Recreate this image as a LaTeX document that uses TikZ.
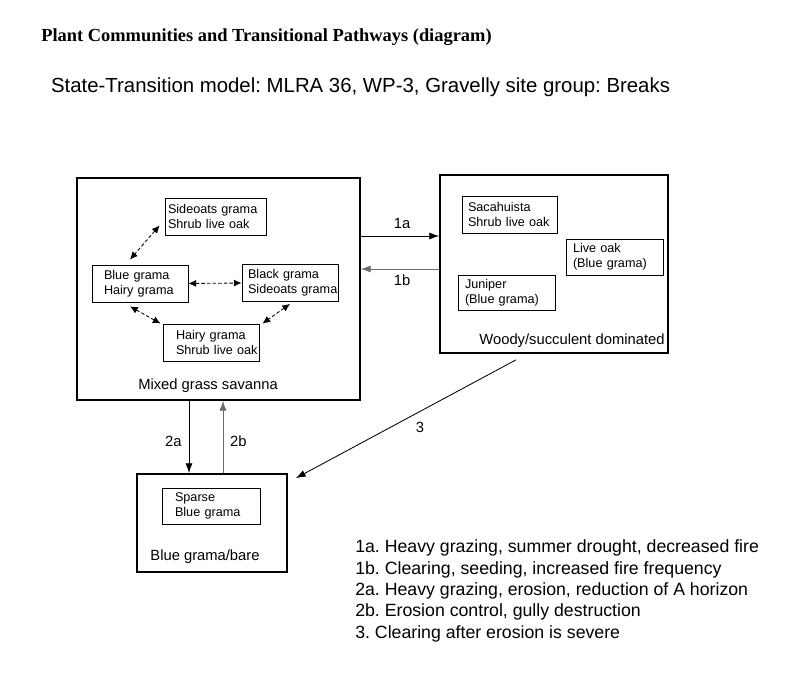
\documentclass[tikz,border=0pt]{standalone}
\usepackage{fontspec}
\setmainfont{Liberation Sans}
\newfontfamily\headfont{Liberation Serif}
\usepackage{tikz}
\usepackage{xcolor}
\usetikzlibrary{
    arrows.meta
}
\definecolor{transgray}{rgb}{0.42, 0.42, 0.42}
\frenchspacing

\begin{document}
\begin{tikzpicture}[
    statebox/.style={draw, line width=1.2pt, rectangle, inner sep=0cm},
    community/.style={draw, semithick, rectangle, align=left, minimum height=0.925cm, inner ysep=0cm, font=\fontsize{9}{10.8}\selectfont},
    pathway/.style={{Latex[length=5.5pt, width=5pt]}-{Latex[length=5.5pt, width=5pt]}, dash pattern=on 2.5pt off 1.5pt, semithick},
    transition/.style={-{Latex[length=7pt, width=5pt]}, semithick},
    statelabel/.style={font=\fontsize{10.5}{12}\selectfont},
    translabel/.style={font=\fontsize{10.5}{12}\selectfont}
]
            \useasboundingbox (0, 0) rectangle (20, 16.875);

            \node[anchor=west, inner sep=0cm, font=\headfont\bfseries\fontsize{13.1}{15}\selectfont] (header) at (1.025, 15.95) {Plant Communities and Transitional Pathways (diagram)};
            \node[anchor=west, inner sep=0cm, font=\fontsize{14.5}{17}\selectfont] (title) at (1.27, 14.7) {State-Transition model: MLRA 36, WP-3, Gravelly site group: Breaks};

            % states
            \node[statebox, minimum width=7.075cm, minimum height=5.55cm] (savanna) at (5.4625, 9.65) {};
            \node[statebox, minimum width=5.7cm, minimum height=4.45cm] (woody) at (13.85, 10.275) {};
            \node[statebox, minimum width=3.75cm, minimum height=2.45cm] (bare) at (5.3, 3.8) {};

            \node[statelabel] (savannalabel) at (5.2, 7.225) {Mixed grass savanna};
            \node[statelabel] (woodylabel) at (14.3, 8.35) {Woody/succulent dominated};
            \node[statelabel] (barelabel) at (5.125, 2.95) {Blue grama/bare};

            % communities
            \node[community, text width=2.375cm, inner xsep=0.075cm] (sideoats) at (5.3875, 11.4625) {Sideoats~grama\\Shrub~live~oak};
            \node[community, text width=1.8cm, inner xsep=0.3cm] (bluehairy) at (3.5, 9.7875) {Blue~grama\\Hairy~grama};
            \node[community, text width=2.1cm, inner xsep=0.15cm] (blacksideoats) at (7.25, 9.8) {Black~grama\\Sideoats~grama};
            \node[community, text width=1.75cm, inner xsep=0.325cm] (hairyshrub) at (5.275, 8.3125) {Hairy~grama\\Shrub~live~oak};

            \node[community, text width=2.075cm, inner xsep=0.15cm] (sacahuista) at (12.7375, 11.5125) {Sacahuista\\Shrub~live~oak};
            \node[community, text width=2.075cm, inner xsep=0.175cm, minimum height=0.9cm] (liveoak) at (15.3625, 10.45) {Live~oak\\(Blue~grama)};
            \node[community, text width=2.075cm, inner xsep=0.175cm, minimum height=0.875cm] (juniper) at (12.6625, 9.5625) {Juniper\\(Blue~grama)};

            \node[community, text width=1.8cm, inner xsep=0.325cm, minimum height=0.9cm] (sparse) at (5.275, 4.225) {Sparse\\Blue~grama};

            % pathways inside the savanna
            \draw[pathway] ([xshift=-0.125cm, yshift=0.25cm]sideoats.south west) -- ([xshift=-0.25cm, yshift=0.125cm]bluehairy.north);
            \draw[pathway] (bluehairy.east) -- (blacksideoats.west);
            \draw[pathway] ([xshift=-0.25cm, yshift=-0.1cm]bluehairy.south) -- ([xshift=-0.05cm]hairyshrub.north west);
            \draw[pathway] ([yshift=-0.05cm]blacksideoats.south) -- ([xshift=0.075cm]hairyshrub.north east);

            % transitions
            \coordinate (oneA) at ([yshift=1.325cm]savanna.east);
            \coordinate (oneB) at ([yshift=0.5cm]savanna.east);
            \draw[transition] (oneA) -- (oneA -| woody.west);
            \draw[transition, transgray] (oneB -| woody.west) -- (oneB);

            \coordinate (twoA) at ([xshift=-0.7375cm]savanna.south);
            \coordinate (twoB) at ([xshift=0.1125cm]savanna.south);
            \draw[transition] (twoA) -- (twoA |- bare.north);
            \draw[transition, transgray] (twoB |- bare.north) -- (twoB);

            \coordinate (threeStart) at ([xshift=-0.95cm, yshift=-0.15cm]woody.south);
            \coordinate (threeEnd) at ([xshift=0.2cm, yshift=-0.125cm]bare.north east);
            \draw[transition] (threeStart) -- (threeEnd);

            \node[translabel] (labelOneA) at (10.05, 11.3) {1a};
            \node[translabel] (labelOneB) at (10.05, 9.875) {1b};
            \node[translabel] (labelTwoA) at (4.333, 5.833) {2a};
            \node[translabel] (labelTwoB) at (5.958, 5.833) {2b};
            \node[translabel] (labelThree) at (10.5, 6.18) {3};

            \node[align=left, anchor=west, inner sep=0cm, font=\fontsize{12.6}{15.2}\selectfont] (legend) at (8.875, 2.1) {1a. Heavy grazing, summer drought, decreased fire\\1b. Clearing, seeding, increased fire frequency\\2a. Heavy grazing, erosion, reduction of A horizon\\2b. Erosion control, gully destruction\\3. Clearing after erosion is severe};
\end{tikzpicture}
\end{document}
